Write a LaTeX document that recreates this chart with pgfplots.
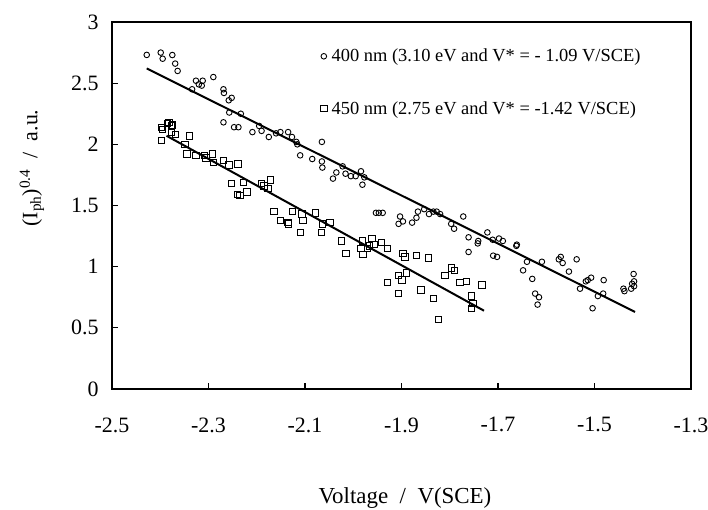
\documentclass[border=0pt]{standalone}
\usepackage{fontspec}
\setmainfont{Liberation Serif}
\usepackage{pgfplots}
\pgfplotsset{compat=1.18}
\begin{document}
\begin{tikzpicture}
\useasboundingbox (-112bp,-121bp) rectangle (596bp,389bp);
\begin{axis}[
  scale only axis,
  width=579bp, height=367bp,
  xmin=-2.5, xmax=-1.3, ymin=0, ymax=3,
  xtick={-2.5,-2.3,-2.1,-1.9,-1.7,-1.5,-1.3},
  ytick={0,0.5,1,1.5,2,2.5,3},
  xticklabels={-2.5,-2.3,-2.1,-1.9,-1.7,-1.5,-1.3},
  yticklabels={0,0.5,1,1.5,2,2.5,3},
  tick align=inside,
  major tick length=6bp,
  tick style={black, line width=1.2pt},
  axis line style={line width=1.9bp},
  xtick pos=bottom, ytick pos=left,
  ticklabel style={font=\fontsize{22}{26}\selectfont},
  xticklabel style={yshift=-25bp},
  yticklabel style={xshift=-10bp},
  xlabel={Voltage \ / \ V(SCE)},
  ylabel={(I\textsubscript{ph})\textsuperscript{0.4} \ / \ a.u.},
  xlabel style={font=\fontsize{23}{27}\selectfont, at={(rel axis cs:0.506,0)}, anchor=center, yshift=-109bp},
  ylabel style={font=\fontsize{22}{26}\selectfont, at={(rel axis cs:0,0.602)}, anchor=center, yshift=80bp},
  legend style={at={(rel axis cs:0.360,0.932)}, anchor=north west, draw=none, fill=none,
    font=\fontsize{18.5}{22}\selectfont, row sep=34bp, inner sep=0pt},
  legend cell align=left,
  legend image code/.code={\draw[#1, only marks] plot coordinates {(0.1cm,0cm)}; \path (0.3cm,0cm);},
]
\addplot[only marks, mark=o, mark size=2.8bp, mark options={line width=0.9pt, black}] coordinates {
(-2.428,2.731) (-2.399,2.75) (-2.395,2.70) (-2.375,2.73) (-2.369,2.66) (-2.364,2.60)
(-2.334,2.45) (-2.326,2.52) (-2.320,2.49) (-2.314,2.48) (-2.312,2.52) (-2.290,2.55)
(-2.269,2.45) (-2.268,2.42) (-2.269,2.18) (-2.258,2.36) (-2.252,2.38) (-2.257,2.26)
(-2.247,2.14) (-2.238,2.14) (-2.233,2.25) (-2.209,2.10) (-2.195,2.15) (-2.190,2.11)
(-2.175,2.06) (-2.160,2.09) (-2.151,2.10) (-2.135,2.10) (-2.127,2.06) (-2.118,2.02)
(-2.116,2.00) (-2.110,1.91) (-2.085,1.88) (-2.065,2.02) (-2.065,1.86) (-2.064,1.81)
(-2.042,1.72) (-2.035,1.77) (-2.022,1.82) (-2.016,1.76) (-2.005,1.74) (-1.995,1.74)
(-1.984,1.78) (-1.981,1.67) (-1.977,1.73) (-1.953,1.44) (-1.947,1.44) (-1.939,1.44)
(-1.906,1.35) (-1.903,1.41) (-1.897,1.37) (-1.878,1.36) (-1.869,1.40) (-1.866,1.45)
(-1.853,1.47) (-1.843,1.43) (-1.834,1.45) (-1.827,1.45) (-1.820,1.43) (-1.797,1.35)
(-1.791,1.31) (-1.772,1.41) (-1.761,1.24) (-1.761,1.12) (-1.742,1.19) (-1.741,1.21)
(-1.722,1.28) (-1.711,1.22) (-1.710,1.09) (-1.702,1.08) (-1.698,1.23) (-1.690,1.21)
(-1.662,1.17) (-1.661,1.18) (-1.648,0.97) (-1.640,1.04) (-1.629,0.90) (-1.623,0.78)
(-1.618,0.69) (-1.615,0.75) (-1.609,1.04) (-1.574,1.06) (-1.570,1.08) (-1.566,1.03)
(-1.553,0.96) (-1.537,1.06) (-1.530,0.82) (-1.518,0.88) (-1.514,0.89) (-1.507,0.91)
(-1.504,0.66) (-1.493,0.76) (-1.482,0.78) (-1.481,0.89) (-1.440,0.82) (-1.438,0.80)
(-1.424,0.82) (-1.422,0.86) (-1.419,0.94) (-1.418,0.88) (-1.418,0.84)
};
\addlegendentry{400 nm (3.10 eV and V* = - 1.09 V/SCE)}
\addplot[only marks, mark=square, mark size=3.2bp, mark options={line width=0.9pt, black}] coordinates {
(-2.398,2.14) (-2.395,2.12) (-2.398,2.03) (-2.385,2.17) (-2.382,2.18) (-2.377,2.15)
(-2.375,2.16) (-2.377,2.10) (-2.369,2.08) (-2.349,2.00) (-2.345,1.92) (-2.339,2.07)
(-2.326,1.91) (-2.308,1.91) (-2.305,1.89) (-2.292,1.92) (-2.290,1.85) (-2.269,1.87)
(-2.258,1.83) (-2.252,1.68) (-2.239,1.84) (-2.240,1.59) (-2.235,1.58) (-2.227,1.69)
(-2.220,1.61) (-2.190,1.68) (-2.185,1.66) (-2.177,1.64) (-2.171,1.71) (-2.164,1.45)
(-2.151,1.38) (-2.135,1.36) (-2.134,1.35) (-2.126,1.45) (-2.110,1.28) (-2.106,1.43)
(-2.104,1.38) (-2.078,1.44) (-2.066,1.28) (-2.064,1.35) (-2.048,1.36) (-2.024,1.21)
(-2.015,1.11) (-1.984,1.15) (-1.981,1.21) (-1.980,1.10) (-1.971,1.15) (-1.966,1.17)
(-1.961,1.23) (-1.957,1.18) (-1.941,1.20) (-1.929,1.15) (-1.929,0.87) (-1.906,0.78)
(-1.906,0.93) (-1.899,0.89) (-1.897,1.11) (-1.893,1.08) (-1.890,0.95) (-1.869,1.09)
(-1.860,0.81) (-1.844,1.07) (-1.834,0.74) (-1.823,0.57) (-1.810,0.93) (-1.797,0.99)
(-1.790,0.97) (-1.779,0.87) (-1.765,0.88) (-1.755,0.76) (-1.755,0.66) (-1.752,0.70)
(-1.733,0.85)
};
\addlegendentry{450 nm (2.75 eV and V* = -1.42 V/SCE)}
\addplot[black, line width=2bp, forget plot] coordinates {(-2.428,2.62) (-1.416,0.63)};
\addplot[black, line width=2bp, forget plot] coordinates {(-2.387,2.07) (-1.729,0.64)};
\end{axis}
\end{tikzpicture}
\end{document}
